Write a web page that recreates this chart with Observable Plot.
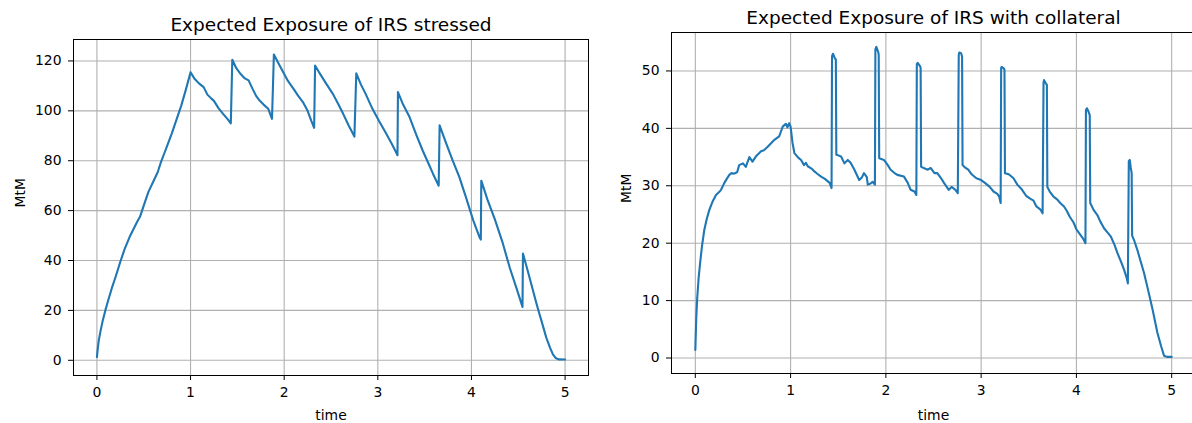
<!DOCTYPE html>
<html><head><meta charset="utf-8">
<script src="https://cdn.jsdelivr.net/npm/d3@7"></script>
<script src="https://cdn.jsdelivr.net/npm/@observablehq/plot@0.6"></script>
<style>
html,body{margin:0;padding:0;background:#fff;overflow:hidden;width:1192px;height:423px;}
#wrap{position:relative;width:1192px;height:423px;overflow:hidden;background:#fff;}
.panel{position:absolute;top:0;}
.panel svg{max-width:none !important;}
</style></head><body>
<div id="wrap"><div id="p1" class="panel" style="left:0;width:600px"></div><div id="p2" class="panel" style="left:600px;width:610px"></div></div>
<script>
const xTicks = [0, 1, 2, 3, 4, 5];
const leftYTicks = [0, 20, 40, 60, 80, 100, 120];
const rightYTicks = [0, 10, 20, 30, 40, 50];
const leftTitle = "Expected Exposure of IRS stressed";
const rightTitle = "Expected Exposure of IRS with collateral";
const xLabel = "time";
const yLabel = "MtM";

const leftTime = [0,0.01,0.02,0.04,0.06,0.09,0.12,0.16,0.2,0.25,0.3,0.35,0.39,0.43,0.46,0.5,0.55,0.6,0.65,0.68,0.72,0.76,0.8,0.85,0.9,0.95,1.0,
1.04,1.09,1.14,1.18,1.22,1.25,1.3,1.35,1.4,1.43,
1.446,1.49,1.53,1.58,1.62,1.66,1.7,1.74,1.78,1.83,1.87,
1.89,1.94,1.99,2.04,2.1,2.15,2.2,2.25,2.29,2.32,
2.33,2.38,2.45,2.52,2.58,2.63,2.69,2.75,
2.77,2.82,2.87,2.94,3.01,3.08,3.15,3.2,3.21,
3.215,3.27,3.34,3.41,3.48,3.54,3.59,3.65,
3.66,3.73,3.8,3.87,3.94,4.02,4.09,4.1,
4.105,4.17,4.25,4.33,4.41,4.48,4.545,
4.55,4.6,4.65,4.7,4.75,4.8,4.84,4.87,4.9,4.93,5.0];
const leftMtM = [1.3,5,8,12,15.5,20,24,29,33.5,39.5,45,49.5,52.5,55.5,57.5,62,67.5,71.5,75.5,79,83,87,91,96.5,102,108.5,115.5,
113,111,109.5,106.5,105,104,101,98.7,96.5,95,
120.5,117,115,113,112.2,109,106,104,102.5,100.8,96.8,
122.6,119,115.5,112,108.8,106,103.5,100,96,93.2,
118.2,115,110.8,106.8,102.5,98.8,94,89.7,
115,110.5,106.8,101,96.1,91.5,86.7,83,82.2,
107.5,102.5,97.4,90.5,84,79,74.7,70,
94.2,87,80,73.5,65.5,56,49,48.4,
72,64.5,56.5,47.5,37,29,21.4,
42.8,36,29,22,15.5,9,5,2.4,0.9,0.35,0.3];

const rightTime = [0,0.01,0.02,0.035,0.05,0.07,0.094,0.12,0.147,0.18,0.217,0.25,0.27,0.305,0.33,0.357,0.38,0.41,0.44,0.46,0.5,0.53,0.567,0.6,0.64,0.69,0.72,0.76,0.8,0.83,0.88,0.9,0.917,0.95,0.967,0.985,1.0,
1.02,1.04,1.08,1.11,1.14,1.16,1.18,1.22,1.25,1.28,1.32,1.36,1.41,1.43,
1.435,1.445,1.465,1.475,1.48,1.5,1.53,1.565,1.6,1.63,1.67,1.72,1.75,1.77,1.8,1.81,1.84,1.86,1.885,
1.89,1.9,1.92,1.925,1.93,1.98,2.02,2.05,2.1,2.12,2.19,2.23,2.26,2.3,2.32,
2.325,2.334,2.36,2.365,2.37,2.41,2.44,2.47,2.51,2.54,2.58,2.61,2.66,2.69,2.73,2.755,
2.765,2.77,2.79,2.8,2.805,2.83,2.865,2.9,2.95,3.0,3.04,3.09,3.13,3.17,3.19,3.205,
3.21,3.215,3.24,3.245,3.25,3.29,3.34,3.38,3.43,3.47,3.51,3.55,3.58,3.62,3.645,
3.655,3.66,3.68,3.69,3.695,3.72,3.76,3.8,3.83,3.87,3.9,3.93,3.97,4.0,4.04,4.07,4.095,
4.1,4.11,4.13,4.14,4.145,4.18,4.22,4.25,4.29,4.33,4.36,4.4,4.43,4.47,4.5,4.53,4.54,
4.55,4.56,4.57,4.58,4.585,4.61,4.64,4.68,4.71,4.76,4.8,4.85,4.89,4.92,4.95,5.0];
const rightMtM = [1.4,7,10.5,14,16.5,19.5,22.3,24.2,25.8,27.2,28.4,28.9,29.3,30.5,31.2,31.9,32.2,32.1,32.4,33.6,33.9,33.3,35,34.2,35.2,36,36.2,36.8,37.5,38,38.6,39.5,40.3,40.8,40.2,40.9,40.3,
37.5,35.7,34.9,34.5,33.6,34,33.4,33,32.5,32.1,31.6,31.2,30.5,29.6,
52.6,53,52.2,52,35.4,35.3,35.1,33.9,34.5,34,32.8,31,31.5,32.2,31.5,30.2,30.4,30.7,30.2,
53.8,54.2,53.3,52.8,34.8,34.5,33.6,32.8,32.1,31.9,31.6,30.5,29.3,29,28.4,
51.2,51.4,50.8,50.5,33.3,33,32.8,33.1,32.2,32.2,31.3,30.5,29.3,29.8,29.3,28.7,
52.8,53.2,53.1,52.5,33.6,33.2,32.8,32,31.3,31,30.5,29.8,29,28.6,28.1,27,
50.5,50.7,50.4,50.2,32.2,32,31.3,30.2,29.3,28.3,27.8,27.4,26.4,25.9,25.2,
48,48.4,47.8,47.6,29.8,29,28.1,27.6,27,26.4,25.6,24.6,23.6,22.4,21.5,20.8,20,
43.2,43.5,42.8,42.3,27,25.8,24.9,23.8,22.6,21.8,21.2,19.7,18.3,16.7,15.4,13.8,13,
34.3,34.5,33.2,32.2,21.3,20.3,18.8,16.5,14.8,11.3,8.4,4.4,2,0.4,0.2,0.2];

function panel(o) {
  const data = o.t.map((d, i) => ({time: d, mtm: o.v[i]}));
  return Plot.plot({
    width: o.width, height: 423,
    marginLeft: o.ml, marginRight: o.mr, marginTop: o.mt, marginBottom: o.mb,
    style: {fontFamily: "'DejaVu Sans', sans-serif", fontSize: "13.9px", color: "#000", background: "#fff", overflow: "visible", maxWidth: "none"},
    x: {domain: [-0.25, 5.25], ticks: xTicks, tickFormat: d => String(d), tickSize: 5, tickPadding: 6.5, label: null},
    y: {domain: o.yDomain, ticks: o.yTicks, tickFormat: d => String(d), tickSize: 5, tickPadding: 7, label: null},
    marks: [
      Plot.ruleX(xTicks, {stroke: "#b0b0b0", strokeWidth: 1.1}),
      Plot.ruleY(o.yTicks, {stroke: "#b0b0b0", strokeWidth: 1.1}),
      Plot.line(data, {x: "time", y: "mtm", stroke: "#1f77b4", strokeWidth: 2.1}),
      Plot.frame({stroke: "#000", strokeWidth: 1}),
      Plot.text([o.title], {text: d => d, frameAnchor: "top", lineAnchor: "bottom", dy: o.titleDy, fontSize: 18.5, fill: "#000"}),
      Plot.text([xLabel], {text: d => d, frameAnchor: "bottom", lineAnchor: "bottom", dy: o.xlabDy, fontSize: 13.9, fill: "#000"}),
      Plot.text([yLabel], {text: d => d, frameAnchor: "left", lineAnchor: "bottom", rotate: -90, dx: o.ylabDx, fontSize: 13.9, fill: "#000"})
    ]
  });
}

document.getElementById("p1").appendChild(panel({
  t: leftTime, v: leftMtM, yTicks: leftYTicks, yDomain: [-6.1, 128.6], title: leftTitle,
  width: 600, ml: 73, mr: 12, mt: 39, mb: 48, titleDy: -8.3, xlabDy: 44.5, ylabDx: -49
}));
document.getElementById("p2").appendChild(panel({
  t: rightTime, v: rightMtM, yTicks: rightYTicks, yDomain: [-2.7, 56.7], title: rightTitle,
  width: 610, ml: 71, mr: 15, mt: 32, mb: 50, titleDy: -9, xlabDy: 46, ylabDx: -41
}));
</script>
</body></html>
